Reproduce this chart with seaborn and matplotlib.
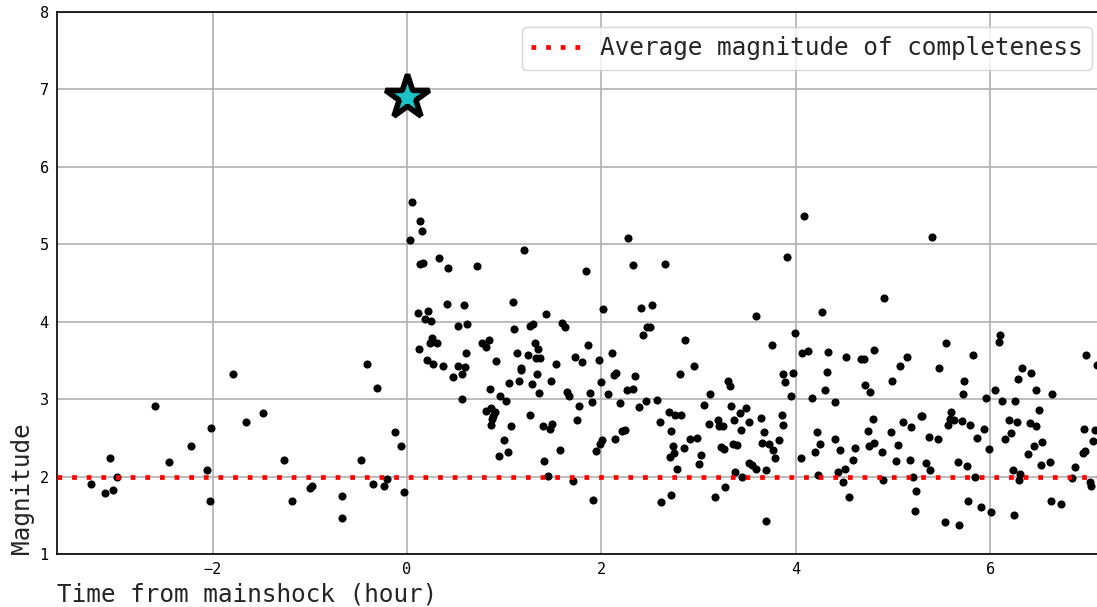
import matplotlib
matplotlib.use("Agg")
import matplotlib.pyplot as plt
import seaborn as sns
import pandas as pd

# ---------------- data ----------------
fore_time = [-3.25, -3.11, -3.05, -3.02, -2.98, -2.59, -2.45, -2.22, -2.06, -2.02,
             -2.03, -1.79, -1.66, -1.48, -1.27, -1.18, -1.00, -0.98, -0.67, -0.67,
             -0.47, -0.41, -0.31, -0.35, -0.24, -0.21, -0.12, -0.06, -0.03]
fore_mag = [1.91, 1.79, 2.24, 1.83, 1.99, 2.91, 2.19, 2.40, 2.09, 2.63,
            1.68, 3.33, 2.70, 2.82, 2.21, 1.68, 1.85, 1.88, 1.75, 1.47,
            2.21, 3.45, 3.15, 1.91, 1.88, 1.97, 2.58, 2.39, 1.80]

after_time_a = [0.05, 0.13, 0.15, 0.03, 1.20, 2.27, 0.13, 0.16, 0.33, 0.42, 0.72, 1.84, 2.32,
                0.41, 0.59, 1.09, 2.02, 0.11, 0.22, 0.18, 0.25, 0.52, 0.62, 1.10, 1.27, 1.30,
                1.43, 1.59, 1.62, 0.12, 0.26, 0.24, 0.31, 0.21, 0.27, 0.37, 0.52, 0.60, 0.61,
                0.77, 0.81, 0.84, 0.92, 1.13, 1.17, 1.24, 1.32, 1.35, 1.33, 1.37, 1.53, 1.73,
                1.80, 1.86, 1.97, 2.11,
                0.57, 0.47, 1.17, 1.34, 1.05, 1.15, 1.29, 1.48, 0.85, 0.96, 1.02, 1.36, 1.65,
                1.67, 1.88, 2.00, 2.07, 2.13, 2.15, 2.26, 0.57, 0.81, 0.86, 0.90, 0.88, 0.87,
                0.86, 1.07, 1.26, 1.40, 1.47, 1.49, 1.77, 1.75, 1.90, 2.19, 2.21, 2.24, 2.14,
                2.01, 1.99, 1.94, 1.57, 1.00, 1.04, 0.95, 1.41, 1.45, 1.71, 1.91]
after_mag_a = [5.54, 5.30, 5.17, 5.06, 4.93, 5.08, 4.75, 4.76, 4.82, 4.70, 4.72, 4.65, 4.73,
               4.23, 4.21, 4.26, 4.17, 4.11, 4.14, 4.04, 4.01, 3.94, 3.97, 3.90, 3.94, 3.97,
               4.10, 3.98, 3.93, 3.65, 3.79, 3.73, 3.72, 3.50, 3.46, 3.43, 3.43, 3.41, 3.59,
               3.72, 3.67, 3.77, 3.49, 3.59, 3.40, 3.57, 3.72, 3.65, 3.53, 3.53, 3.46, 3.54,
               3.48, 3.70, 3.51, 3.60,
               3.32, 3.29, 3.38, 3.33, 3.21, 3.23, 3.20, 3.24, 3.13, 3.04, 2.97, 3.08, 3.09,
               3.04, 3.08, 3.22, 3.06, 3.31, 3.34, 3.12, 3.00, 2.85, 2.89, 2.83, 2.78, 2.75,
               2.66, 2.65, 2.79, 2.65, 2.62, 2.68, 2.91, 2.73, 2.96, 2.95, 2.59, 2.60, 2.48,
               2.47, 2.42, 2.33, 2.34, 2.47, 2.32, 2.27, 2.20, 2.01, 1.94, 1.70]

after_time_b = [4.08, 2.65, 3.91, 2.41, 2.52, 3.59, 4.27, 2.47, 2.50, 2.43, 2.86, 3.99, 3.75,
                4.06, 4.12, 4.33, 4.52, 2.95,
                2.34, 2.32, 2.46, 2.39, 2.57, 2.81, 3.12, 3.05, 3.30, 3.32, 3.33, 2.69, 2.76,
                2.82, 2.60, 2.72, 2.91, 2.98, 3.11, 3.20, 3.21, 3.25, 3.36, 3.43, 3.49, 3.52,
                3.44, 3.64, 3.67, 3.86, 3.87, 3.83, 3.65, 3.72, 3.76, 3.79, 2.74, 2.75, 2.70,
                2.85, 3.02, 3.00, 3.23, 3.26, 3.35, 3.39, 2.78, 3.52, 3.55, 3.59, 3.37, 3.45,
                3.69, 3.27, 3.17, 2.72, 2.61, 3.69, 3.87, 3.89, 3.97, 3.95, 4.17, 4.30, 4.32,
                4.40, 4.05, 4.22, 4.25, 4.20, 4.40, 4.45, 4.23, 4.43, 4.51, 4.48, 4.55]
after_mag_b = [5.36, 4.75, 4.83, 4.18, 4.21, 4.07, 4.13, 3.93, 3.93, 3.83, 3.76, 3.85, 3.70,
               3.59, 3.62, 3.61, 3.54, 3.43,
               3.30, 3.13, 2.98, 2.90, 2.99, 3.33, 3.07, 2.93, 3.24, 3.17, 2.91, 2.83, 2.79,
               2.80, 2.71, 2.59, 2.49, 2.50, 2.68, 2.73, 2.65, 2.65, 2.73, 2.82, 2.88, 2.70,
               2.60, 2.76, 2.58, 2.80, 2.67, 2.47, 2.44, 2.42, 2.34, 2.24, 2.40, 2.31, 2.25,
               2.37, 2.28, 2.16, 2.38, 2.36, 2.42, 2.41, 2.10, 2.18, 2.15, 2.10, 2.06, 1.99,
               2.09, 1.87, 1.74, 1.76, 1.67, 1.42, 3.32, 3.22, 3.34, 3.04, 3.02, 3.12, 3.35,
               2.96, 2.24, 2.58, 2.42, 2.32, 2.49, 2.34, 2.02, 2.06, 2.10, 1.93, 1.74]

after_time_c = [5.40, 4.91, 6.10, 6.09, 4.67, 4.70, 4.80, 5.07, 5.14, 5.54, 5.47, 5.82, 6.33,
                6.98, 7.10,
                4.71, 4.76, 4.99, 5.73, 5.72, 5.96, 6.05, 6.12, 6.25, 6.28, 6.42, 6.47, 6.63,
                6.50, 6.19, 6.27, 6.41, 6.47, 6.21, 6.15, 6.53, 6.45, 6.39, 6.52, 6.61, 6.23,
                6.31, 6.29, 5.99, 5.93, 5.86, 5.79, 5.71, 5.60, 5.59, 5.63, 5.56, 5.46, 5.37,
                5.29, 5.30, 5.18, 5.10, 4.98, 5.05, 4.74, 4.79, 4.75, 4.80, 4.61, 4.89, 4.59,
                5.03, 5.17, 5.34, 5.38, 5.20, 4.90, 5.24, 5.23, 5.53, 5.68, 5.67, 5.76, 5.84,
                5.77, 5.90, 6.01, 6.24, 6.62, 6.73, 6.84, 6.87, 6.95, 6.97, 7.06, 7.08, 6.96,
                7.03, 7.04]
after_mag_c = [5.10, 4.30, 3.83, 3.74, 3.52, 3.52, 3.63, 3.43, 3.54, 3.72, 3.40, 3.57, 3.40,
               3.57, 3.44,
               3.18, 3.09, 3.23, 3.24, 3.06, 3.01, 3.12, 2.97, 2.97, 3.26, 3.34, 3.12, 3.06,
               2.86, 2.73, 2.70, 2.69, 2.65, 2.56, 2.48, 2.45, 2.39, 2.29, 2.15, 2.19, 2.09,
               2.03, 1.95, 2.35, 2.61, 2.50, 2.67, 2.72, 2.83, 2.75, 2.73, 2.66, 2.48, 2.51,
               2.78, 2.78, 2.64, 2.70, 2.57, 2.41, 2.59, 2.74, 2.40, 2.43, 2.37, 2.32, 2.21,
               2.20, 2.22, 2.17, 2.09, 2.00, 1.95, 1.82, 1.55, 1.41, 1.38, 2.19, 2.14, 1.99,
               1.69, 1.61, 1.54, 1.50, 1.68, 1.65, 1.98, 2.13, 2.31, 2.33, 2.46, 2.60, 2.61,
               1.93, 1.88]

mainshock_time = [0.0]
mainshock_mag = [6.9]
mc_average = 2.0

x_ticks = [-2, 0, 2, 4, 6]
y_ticks = [1, 2, 3, 4, 5, 6, 7, 8]

# ---------------- plot ----------------
sns.set_style("white")
plt.rcParams["font.family"] = ["DejaVu Sans Mono", "DejaVu Sans"]

events = pd.DataFrame({
    "time": fore_time + after_time_a + after_time_b + after_time_c,
    "mag": fore_mag + after_mag_a + after_mag_b + after_mag_c,
})
main = pd.DataFrame({"time": mainshock_time, "mag": mainshock_mag})

W, H = 1097, 607
fig = plt.figure(figsize=(W / 100, H / 100), dpi=100)
ax = fig.add_axes([57 / W, (H - 554) / H, 1050 / W, 542 / H])

ax.grid(True, color="#b0b0b0", linewidth=1.2, zorder=0)
ax.set_axisbelow(True)

sns.scatterplot(data=events, x="time", y="mag", color="black", s=34,
                linewidth=0, ax=ax, zorder=3, legend=False)

ax.axhline(mc_average, color="red", linestyle=(0, (1, 2.1)), linewidth=3.4,
           label="Average magnitude of completeness", zorder=4)

sns.scatterplot(data=main, x="time", y="mag", marker="*", s=1100,
                color="#1cc2c6", edgecolor="black", linewidth=4.0,
                ax=ax, zorder=5, legend=False)
ax.collections[-1].set_joinstyle("bevel")

ax.set_xlim(-3.6, 7.2)
ax.set_ylim(1, 8)
ax.set_xticks(x_ticks)
ax.set_yticks(y_ticks)
ax.tick_params(direction="in", length=4, width=1, labelsize=11, pad=6,
               colors="black")
for sp in ax.spines.values():
    sp.set_visible(True)
    sp.set_color("black")
    sp.set_linewidth(1.2)

ax.set_xlabel("Time from mainshock (hour)", fontsize=17.6, loc="left")
ax.set_ylabel("Magnitude", fontsize=17.6, loc="bottom")

ax.legend(loc="upper right", fontsize=17.6, frameon=True, fancybox=True,
          edgecolor="#cccccc", handlelength=2.0, borderaxespad=0.6)

fig.savefig("out.png", dpi=100)
